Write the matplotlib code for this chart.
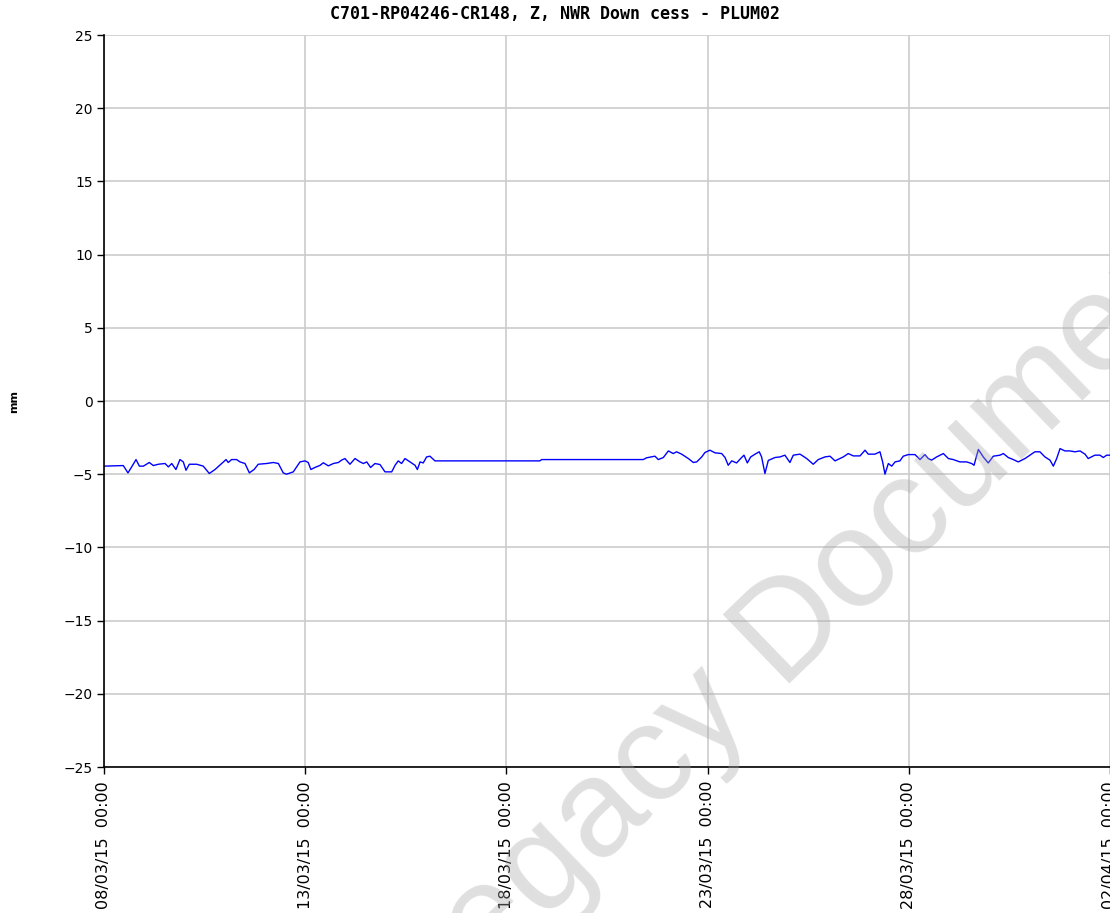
import matplotlib
matplotlib.use("Agg")
import matplotlib.pyplot as plt
import matplotlib.dates as mdates
import pandas as pd

# ── data ──────────────────────────────────────────────────────────────────────

TITLE  = "C701-RP04246-CR148, Z, NWR Down cess - PLUM02"
START  = pd.Timestamp("2015-03-08 00:00")
END    = pd.Timestamp("2015-04-02 00:00")

# hours since START, reading in mm
hours = [
    0.0, 5.6, 11.5, 14.3, 16.5, 19.1, 21.1, 23.5, 27.0, 29.4, 32.4, 36.4, 38.4,
    40.4, 42.9, 45.3, 47.3, 48.9, 50.9, 55.3, 59.2, 62.8, 66.2, 70.2, 72.8,
    74.1, 76.1, 79.1, 81.1, 84.1, 86.7, 89.5, 92.0, 97.0, 101.0, 104.0, 106.9,
    108.9, 112.9, 114.9, 116.9, 119.9, 121.8, 123.4, 125.8, 128.8, 130.8, 133.8,
    136.8, 139.8, 141.7, 143.7, 146.7, 149.7, 152.7, 154.7, 156.7, 159.0, 161.6,
    164.6, 167.6, 171.6, 173.6, 175.5, 177.5, 179.5, 182.5, 185.5, 186.9, 188.5,
    190.4, 192.4, 194.4, 197.4, 260.0, 261.0, 321.6,
    323.6, 328.6, 330.6, 333.6, 336.6, 339.5, 341.5, 344.5, 348.5, 351.5, 353.5,
    356.5, 358.4, 361.4, 364.4, 368.4, 370.4, 372.3, 374.4, 377.3, 379.7, 381.7,
    383.7, 385.7, 388.3, 390.8, 392.2, 394.2, 396.2,
    400.2, 403.2, 406.1, 409.1, 411.1, 415.1, 419.1, 423.0, 426.0, 430.0, 433.0,
    436.0, 440.9, 443.9, 446.9, 450.9, 453.9, 455.8, 459.8, 462.8, 464.4, 465.8,
    467.8, 469.8, 471.8, 474.7, 476.7, 479.7, 483.7, 486.7, 489.6, 491.6, 493.6,
    496.6, 500.6, 503.6, 506.5, 510.5, 514.5, 517.5, 518.9, 521.5, 524.4, 527.4,
    530.4, 534.4, 536.4, 539.3, 542.3, 545.3, 549.3, 552.3, 555.2, 558.2, 561.2,
    564.2, 566.2, 568.2, 570.2, 573.1, 576.1, 579.1, 582.1, 585.1, 587.0, 591.0,
    594.0, 596.0, 598.0, 600.0,
]
mm = [
    -4.45, -4.43, -4.41, -4.91, -4.50, -4.00, -4.45, -4.45, -4.20, -4.41, -4.32,
    -4.27, -4.50, -4.27, -4.68, -4.00, -4.16, -4.73, -4.32, -4.32, -4.45, -4.95,
    -4.68, -4.27, -4.00, -4.20, -4.00, -4.00, -4.16, -4.27, -4.91, -4.68, -4.32,
    -4.27, -4.20, -4.27, -4.91, -5.00, -4.84, -4.50, -4.16, -4.09, -4.20, -4.68,
    -4.54, -4.40, -4.22, -4.43,
    -4.27, -4.20, -4.04, -3.93, -4.32, -3.93, -4.16, -4.27, -4.16, -4.54, -4.27,
    -4.34, -4.84, -4.84, -4.39, -4.09, -4.27, -3.93, -4.16, -4.39, -4.68, -4.16,
    -4.23, -3.82, -3.77, -4.09, -4.09, -4.00, -4.00,
    -3.88, -3.77, -4.00, -3.86, -3.41, -3.59, -3.47, -3.63, -3.93, -4.20, -4.16,
    -3.82, -3.52, -3.36, -3.54, -3.59, -3.86, -4.39, -4.09, -4.23, -3.93, -3.70,
    -4.23, -3.82, -3.63, -3.47, -3.82, -4.95, -4.06,
    -3.86, -3.82, -3.70, -4.20, -3.70, -3.63, -3.93, -4.32, -4.00, -3.82, -3.77,
    -4.09, -3.82, -3.59, -3.75, -3.75, -3.36, -3.63, -3.63, -3.47, -4.16, -5.00,
    -4.27, -4.45, -4.16, -4.09, -3.77, -3.66, -3.66, -4.00, -3.66, -3.93, -4.04,
    -3.82, -3.59, -3.93, -4.00, -4.16, -4.16, -4.27, -4.39, -3.31, -3.82, -4.23,
    -3.77, -3.70, -3.59, -3.86, -4.00, -4.16, -3.93, -3.70, -3.47, -3.47, -3.82,
    -4.04, -4.45, -3.93, -3.25, -3.41, -3.41, -3.47, -3.41, -3.63, -3.93, -3.70,
    -3.70, -3.86, -3.70, -3.70,
]

y_ticks = list(range(-25, 30, 5))

# ── plot ──────────────────────────────────────────────────────────────────────

times = START + pd.to_timedelta(hours, unit="h")

fig = plt.figure(figsize=(11.1, 9.13), dpi=100)
ax = fig.add_axes([104 / 1110, 146 / 913, 1 - 104 / 1110, 732 / 913])

ax.plot(times, mm, color="#0000ff", lw=1.0)

ax.set_xlim(START, END)
ax.set_ylim(-25, 25)
ax.set_yticks(y_ticks)
ax.set_xticks(pd.date_range(START, END, freq="5D"))
ax.xaxis.set_major_formatter(mdates.DateFormatter("%d/%m/%y  %H:%M"))

ax.grid(True, color="#cccccc", lw=1.2)
ax.set_axisbelow(True)
for side in ("top", "right"):
    ax.spines[side].set_visible(False)
for side in ("left", "bottom"):
    ax.spines[side].set_color("black")
    ax.spines[side].set_linewidth(1.2)

ax.tick_params(axis="both", length=5, width=1, color="black", labelsize=10)
ax.tick_params(axis="y", pad=3)
ax.tick_params(axis="x", pad=5, labelrotation=90, labelsize=11.5)

fig.text(0.5, 1 - 14 / 913, TITLE, ha="center", va="center",
         family="DejaVu Sans Mono", fontweight="bold", fontsize=12)
fig.text(14 / 1110, 1 - 401 / 913, "mm", ha="center", va="center",
         rotation=90, fontweight="bold", fontsize=8)

# page watermark
fig.text(810 / 1110, 1 - 614 / 913, "Legacy Document", ha="center", va="center",
         rotation=44, rotation_mode="anchor", family="Liberation Sans",
         fontsize=100, color="#a8a8a8", alpha=0.36, zorder=10)

fig.savefig("out.png", dpi=100)
